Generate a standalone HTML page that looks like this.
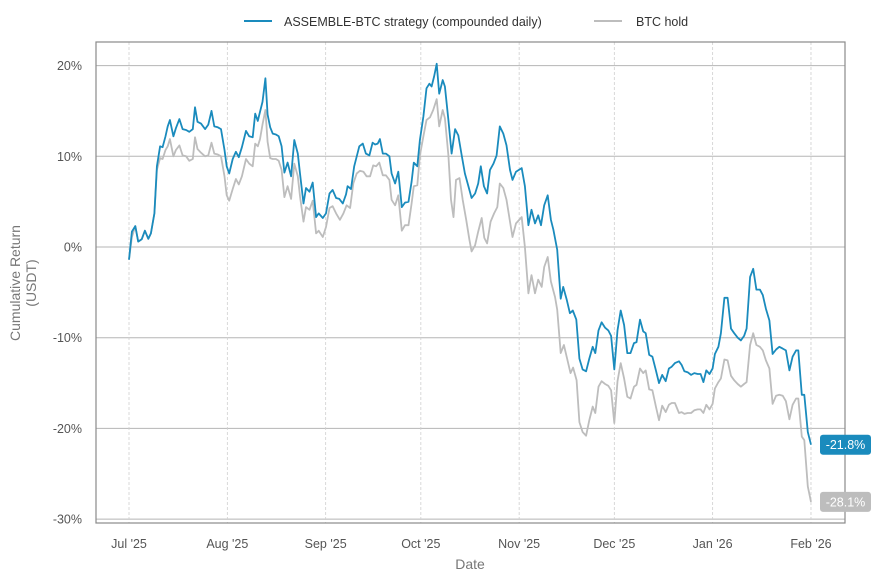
<!DOCTYPE html>
<html><head><meta charset="utf-8"><style>
body{margin:0;background:#fff;font-family:"Liberation Sans",sans-serif;}
svg text{font-family:"Liberation Sans",sans-serif;}
</style></head><body>
<svg id="chart" width="877" height="582" xmlns="http://www.w3.org/2000/svg">
<g id="grid"></g>
<g id="series"></g>
<rect x="96" y="42" width="749" height="481" fill="none" stroke="#8a8a8a" stroke-width="1.2"/>
<g id="axes"></g>
<text x="470" y="569" text-anchor="middle" font-size="14" fill="#777">Date</text>
<text transform="translate(22,283) rotate(-90)" text-anchor="middle" font-size="14" fill="#777"><tspan x="0" dy="-2">Cumulative Return</tspan><tspan x="0" dy="16">(USDT)</tspan></text>
<g>
<g><line x1="244" y1="21" x2="272" y2="21" stroke="#1a8bbd" stroke-width="2"/><text x="284" y="26" font-size="12.5" fill="#333">ASSEMBLE-BTC strategy (compounded daily)</text></g>
<g><line x1="594" y1="21" x2="622" y2="21" stroke="#bdbdbd" stroke-width="2"/><text x="636" y="26" font-size="12.5" fill="#333">BTC hold</text></g>
</g>
</svg>
<script>
const yTicks=[20,10,0,-10,-20,-30];
const yTickLabels=["20%","10%","0%","-10%","-20%","-30%"];
const xTickDays=[0,31,62,92,123,153,184,215];
const xTickLabels=["Jul '25","Aug '25","Sep '25","Oct '25","Nov '25","Dec '25","Jan '26","Feb '26"];
const stratDays=[0,0.9,2,2.9,4,5,6.1,6.9,8,8.8,9.8,10.6,11.5,12.2,12.9,14,14.8,15.9,16.9,18,19,20.1,20.8,21.6,22.7,24,25,26,26.9,28,29,30.1,30.8,31.6,32.7,33.7,34.6,35.6,36.9,37.9,39,39.8,40.6,41.3,42.1,43,43.7,44.5,45.3,46.3,47.2,48.1,49,50,51.1,52.1,53.2,53.9,55,55.8,56.9,57.9,59,59.8,61.1,62.1,63.2,64.2,65.3,66.3,67.4,68.4,68.9,70,71,72.6,73.7,74.7,75.8,76.8,77.6,78.4,79.1,80,81,82.1,82.8,83.9,84.9,86,87,88.1,89.1,89.8,90.9,91.7,92.8,93.8,94.7,95.4,96.2,97,97.8,98.9,99.6,100.7,101.7,102.8,103.8,104.9,105.9,107,108,109.1,110.1,110.9,111.9,112.9,113.8,114.9,115.9,116.9,118,119,120.1,120.9,122,123.8,124.8,125.9,126.9,128,129,129.9,130.9,132,133,133.8,135,136.1,136.9,138,139,139.9,141,142,143,144.1,145.1,146.2,147,148,149,150.1,151.1,152,153,154,155,156.1,157.1,158.1,159.2,160,161.1,162.1,162.9,164,165,166.1,167.1,168.1,169.2,170.2,171.1,172.1,173.4,174.2,175.1,176.1,177.2,178.2,179.3,180.2,181.1,182,183,184,184.7,185.8,186.6,187.7,188.7,189.8,190.8,191.9,192.9,193.9,194.7,195.8,196.8,197.8,198.9,199.8,200.8,201.9,202.9,204,205,206.1,207.1,208.2,209.2,210.3,211,212.1,212.9,214,215];
const stratValues=[-1.4,1.7,2.3,0.6,0.85,1.8,0.9,1.5,3.7,8.9,11.1,11,12.2,13.3,14,12.2,13.1,14.1,13,12.9,12.7,13,15.4,13.8,13.6,13,13.5,15,13.3,13.2,13,10.7,8.9,8.1,9.7,10.5,9.9,11,12.8,12.2,12.1,14.7,13.9,14.9,16,18.6,14.6,13.2,12.5,12.4,12.2,11.1,8.2,9.3,7.8,11.8,10.3,8.1,4.8,6.5,6.1,7.1,3.3,3.7,3.2,3.7,5.9,6.3,5.4,5.3,4.8,5.8,6.7,6.4,8.9,11.1,11.4,10.3,10.1,11.5,11.3,11.4,11.9,10.3,10.3,10,8.1,7,8.3,4.4,4.9,5,7.2,9.3,8.9,11.8,14.4,17.5,18,17.7,18.8,20.2,16.9,18.4,17.7,14,10.3,13,12.3,10.1,8.1,6.7,5.4,5.9,7,8.9,6.7,5.9,8.5,9.2,10.1,13.3,12.5,11.2,8.5,7.4,8.3,8.7,6.7,2.4,4.1,2.6,3.5,2.4,4.6,5.7,3,1.9,-0.3,-5.7,-4.4,-5.8,-7.3,-7,-8,-12.3,-13.5,-13.7,-12.3,-11,-11.7,-9.2,-8.3,-8.9,-9.2,-9.8,-13.5,-9.2,-7,-8.6,-11.7,-11.7,-10.6,-10.5,-8,-9.3,-9.5,-11.9,-12.1,-13.6,-15,-14.1,-14.8,-13.4,-13.2,-12.8,-12.6,-13,-13.7,-13.8,-14.1,-13.9,-14,-14,-14.9,-13.6,-14,-13.4,-11.8,-11,-9.5,-5.6,-5.6,-9,-9.5,-10,-10.3,-9.8,-9,-3.3,-2.4,-4.7,-4.7,-5.3,-6.8,-8.1,-11.8,-11.3,-11,-11.2,-11.4,-13.6,-12.1,-11.4,-11.4,-16.3,-16.3,-20.4,-21.8];
const btcDays=[0,0.9,2,2.9,4,5,6.1,6.9,8,8.8,9.8,10.6,11.5,12.2,12.9,14,14.8,15.9,16.9,18,19,20.1,20.8,21.6,22.7,24,25,26,26.9,28,29,30.1,30.8,31.6,32.7,33.7,34.6,35.6,36.9,37.9,39,39.8,40.6,41.3,42.1,43,43.7,44.5,45.3,46.3,47.2,48.1,49,50,51.1,52.1,53.2,53.9,55,55.8,56.9,57.9,59,59.8,61.1,62.1,63.2,64.2,65.3,66.5,67.6,68.6,69.7,70.7,71.8,72.8,73.9,74.9,76,77,77.9,78.9,80,81,82.1,82.8,83.9,84.9,86,87,88.1,89.1,89.8,90.9,91.7,92.8,93.8,94.9,95.9,97,97.8,98.9,99.6,100.7,101.5,102.3,103.1,104.2,105.2,106.3,107.3,108,109.1,110.1,111.2,112,112.9,114,115.1,116.1,116.9,118,119,120.1,120.9,122,123.8,124.8,125.9,126.9,128,129,130.1,130.9,132,133,134.3,135,136.1,137.1,138.1,139.2,140,141.1,142,143,144.1,145.1,146.2,147,148,149,150.1,151.1,152,153,154,155,156.1,157.1,158.1,159.2,160,161.1,162.1,162.9,164,165,166.1,167.1,168.1,169.2,170.2,171.1,172.1,173.4,174.2,175.1,176.1,177.2,178.2,179.3,180.2,181.1,182,183,184,184.7,185.8,186.6,187.7,188.7,189.8,190.8,191.9,192.9,193.9,194.7,195.8,196.8,197.8,198.9,199.8,200.8,201.9,202.9,204,205,206.1,207.1,208.2,209.2,210.3,211,212.1,212.9,214,215];
const btcValues=[-1.4,1.1,2.3,0.6,0.85,1.8,0.9,1.5,3.7,8.5,9.8,9.7,10.7,11.1,11.9,10,10.7,11.2,10.1,10,9.5,9.7,12.1,10.8,10.4,10,10.1,11.5,10.3,10.2,10,7.8,5.7,5.1,6.4,7.5,6.9,7.8,9.7,9.2,8.9,11.4,11.1,11.9,13.5,15.1,11.6,9.8,9.7,9.7,9.5,8.5,5.5,6.7,5.3,9.2,7.8,5.6,2.8,4.4,4.1,5.1,1.5,1.8,1.1,2.2,4.3,4.5,3.7,3,3.7,4.6,4.3,7,8.1,8.4,8.3,7.8,7.8,9,8.9,9.3,7.9,7.9,7.4,5.2,4.6,5.7,1.8,2.4,2.4,4.8,6.7,6.8,10.1,12.2,14,14.3,15.1,16.3,13.3,15.1,14.2,10.1,5.2,3.3,7.4,7.6,5.2,3,0.8,-0.5,0.2,1.7,3.2,1,0.4,2.8,3.7,4.4,7,6.5,5.2,2.8,1.1,2.6,3.3,0,-5.1,-3.1,-5.1,-3.6,-4.4,-2.2,-1.1,-3.8,-5.5,-6.9,-11.7,-10.8,-12.3,-13.9,-13.3,-14.7,-19.3,-20.4,-20.8,-19.1,-17.6,-18.3,-15.4,-14.8,-15.1,-15.3,-15.8,-19.4,-14.8,-12.8,-14.5,-16.5,-16.7,-15.4,-15.2,-13.4,-13.9,-13.6,-15.7,-15.8,-17.6,-19.1,-17.5,-18.2,-17.4,-17.2,-17.2,-18.3,-18.2,-18.4,-18.3,-18.3,-18,-17.9,-17.9,-18.3,-17.4,-17.9,-17.3,-15.6,-14.9,-14.5,-12.4,-12.5,-14.2,-14.7,-15.1,-15.4,-15.1,-14.9,-10.8,-9.5,-10.8,-11,-11.4,-12.5,-13.4,-17.3,-16.4,-16.3,-16.4,-17,-19,-17.4,-16.7,-16.7,-20.9,-21.3,-26.4,-28.1];

const NS="http://www.w3.org/2000/svg";
function xs(d){return 129+d*3.172;}
function ys(v){return 247-v*9.07;}
function mk(tag,attrs,parent){const e=document.createElementNS(NS,tag);for(const k in attrs)e.setAttribute(k,attrs[k]);parent.appendChild(e);return e;}
const grid=document.getElementById('grid'),axes=document.getElementById('axes'),ser=document.getElementById('series'),svg=document.getElementById('chart');
yTicks.forEach((t,i)=>{
  const l=mk('line',{x1:96,x2:845,y1:ys(t),y2:ys(t),stroke:'#b5b5b5','stroke-width':1},grid);
  
  
  const tx=mk('text',{x:82,y:ys(t)+4.5,'text-anchor':'end','font-size':12.5,fill:'#555'},axes);
  tx.textContent=yTickLabels[i];
  
  
});
xTickDays.forEach((d,i)=>{
  const l=mk('line',{x1:xs(d),x2:xs(d),y1:42,y2:523,stroke:'#cfcfcf','stroke-width':0.8,'stroke-dasharray':'3,2'},grid);
  
  
  const tx=mk('text',{x:xs(d),y:548,'text-anchor':'middle','font-size':12.5,fill:'#555'},axes);
  tx.textContent=xTickLabels[i];
  
  
});
function path(days,vals,color,name){
  const d=days.map((x,i)=>(i?'L':'M')+xs(x).toFixed(1)+','+ys(vals[i]).toFixed(1)).join('');
  const p=mk('path',{d:d,fill:'none',stroke:color,'stroke-width':1.8,'stroke-linejoin':'round'},ser);
  
  
}
path(btcDays,btcValues,'#bdbdbd','btc-hold-line');
path(stratDays,stratValues,'#1a8bbd','strategy-line');
function endLabel(days,vals,color,name){
  const v=vals[vals.length-1],y=ys(v);
  const g=mk('g',{},svg);
  
  
  mk('rect',{x:820,y:y-10,width:51,height:20,rx:3,fill:color},g);
  const t=mk('text',{x:845.5,y:y+4.5,'text-anchor':'middle','font-size':12.5,fill:'#fff'},g);
  t.textContent=v.toFixed(1)+'%';
}
endLabel(stratDays,stratValues,'#1a8bbd','strategy-end-label');
endLabel(btcDays,btcValues,'#bdbdbd','btc-end-label');
</script>
</body></html>
